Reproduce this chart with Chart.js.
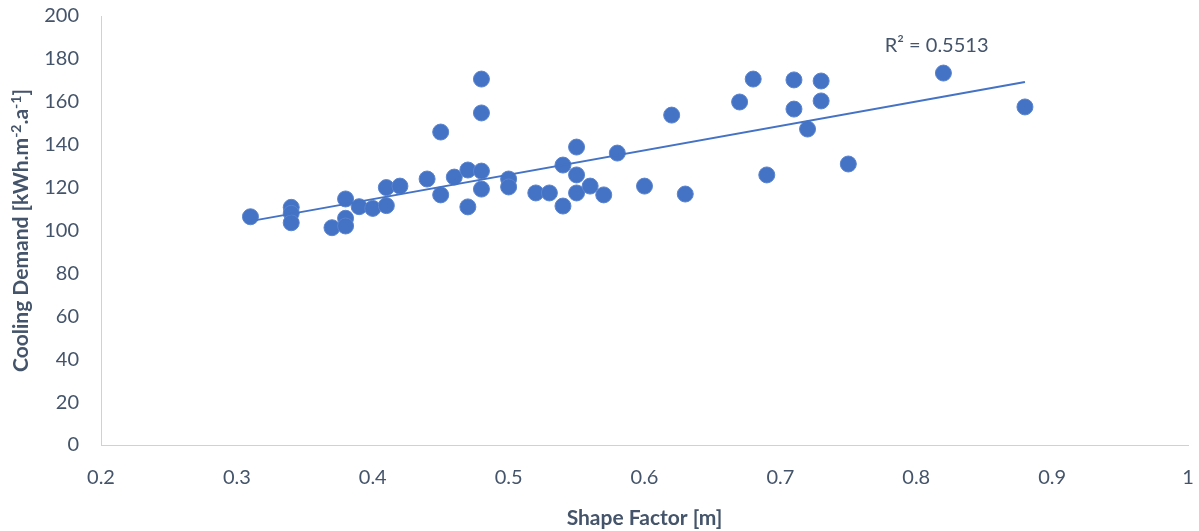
<!DOCTYPE html>
<html>
<head>
<meta charset="utf-8">
<script src="https://cdn.jsdelivr.net/npm/chart.js@4/dist/chart.umd.min.js"></script>
<style>
  html, body { margin: 0; padding: 0; background: #fff; }
  #wrap { width: 1199px; height: 531px; }
</style>
</head>
<body>
<div id="wrap"><canvas id="chart" width="1199" height="531"></canvas></div>
<script>
// shape factor [m] of each building
var shapeFactor = [0.31, 0.34, 0.34, 0.34, 0.37, 0.38, 0.38, 0.38, 0.39, 0.40,
  0.41, 0.41, 0.42, 0.44, 0.45, 0.45, 0.46, 0.47, 0.47, 0.48,
  0.48, 0.48, 0.48, 0.50, 0.50, 0.52, 0.53, 0.54, 0.54, 0.55,
  0.55, 0.55, 0.56, 0.57, 0.58, 0.60, 0.62, 0.63, 0.67, 0.68,
  0.69, 0.71, 0.71, 0.72, 0.73, 0.73, 0.75, 0.82, 0.88];
// cooling demand [kWh/m2a]
var coolingDemand = [106.4, 110.8, 108.0, 103.6, 101.3, 114.7, 105.7, 102.1, 111.1, 110.3,
  120.0, 111.6, 120.7, 124.0, 145.9, 116.6, 124.9, 128.2, 111.0, 170.6,
  154.8, 127.7, 119.3, 124.0, 120.3, 117.5, 117.5, 130.5, 111.4, 138.9,
  125.9, 117.5, 120.7, 116.6, 136.1, 120.7, 153.8, 117.0, 159.9, 170.6,
  125.9, 170.2, 156.6, 147.3, 169.7, 160.4, 131.0, 173.4, 157.6];
var xTicks = [0.2, 0.3, 0.4, 0.5, 0.6, 0.7, 0.8, 0.9, 1];
var yTicks = [0, 20, 40, 60, 80, 100, 120, 140, 160, 180, 200];
var r2Text = 'R² = 0.5513';
// y title pieces, second value = superscript
var yTitleParts = [['Cooling Demand [kWh.m', 0], ['-2', 1], ['.a', 0], ['-1', 1], [']', 0]];

var points = shapeFactor.map(function (x, i) { return { x: x, y: coolingDemand[i] }; });

// least squares line over the data range
var n = points.length, sx = 0, sy = 0, sxx = 0, sxy = 0;
points.forEach(function (p) { sx += p.x; sy += p.y; sxx += p.x * p.x; sxy += p.x * p.y; });
var slope = (n * sxy - sx * sy) / (n * sxx - sx * sx);
var icpt = (sy - slope * sx) / n;
var xMin = Math.min.apply(null, shapeFactor), xMax = Math.max.apply(null, shapeFactor);
var trend = [{ x: xMin, y: icpt + slope * xMin }, { x: xMax, y: icpt + slope * xMax }];

var textColor = '#44546a';
var fontName = 'Lato, "Open Sans", sans-serif';

var extraText = {
  id: 'extraText',
  afterDraw: function (chart) {
    var c = chart.ctx;
    var xs = chart.scales.x, ys = chart.scales.y, area = chart.chartArea;
    c.save();
    // R squared next to the trend line
    c.font = '20px ' + fontName;
    c.fillStyle = textColor;
    c.textAlign = 'center';
    c.textBaseline = 'middle';
    c.fillText(r2Text, xs.getPixelForValue(0.815), ys.getPixelForValue(186));

    // rotated y title with real superscripts
    var big = 'bold 21px ' + fontName, small = 'bold 14px ' + fontName;
    var total = 0;
    yTitleParts.forEach(function (p) { c.font = p[1] ? small : big; total += c.measureText(p[0]).width; });
    c.translate(21, (area.top + area.bottom) / 2);
    c.rotate(-Math.PI / 2);
    c.textAlign = 'left';
    c.textBaseline = 'alphabetic';
    var pos = -total / 2;
    yTitleParts.forEach(function (p) {
      c.font = p[1] ? small : big;
      c.fillText(p[0], pos, p[1] ? 0 : 7);
      pos += c.measureText(p[0]).width;
    });
    c.restore();
  }
};

new Chart(document.getElementById('chart').getContext('2d'), {
  type: 'scatter',
  data: {
    datasets: [{
      label: 'data',
      data: points,
      backgroundColor: '#4472c4',
      borderColor: '#5a84cf',
      borderWidth: 1,
      pointRadius: 8,
      order: 2
    }, {
      label: 'trend',
      type: 'line',
      data: trend,
      borderColor: '#4472c4',
      borderWidth: 2,
      pointRadius: 0,
      fill: false,
      order: 1
    }]
  },
  options: {
    responsive: false,
    animation: false,
    layout: { autoPadding: false, padding: { left: 0, right: 11, top: 16, bottom: 0 } },
    plugins: { legend: { display: false }, tooltip: { enabled: false } },
    scales: {
      x: {
        type: 'linear',
        min: 0.2, max: 1,
        afterBuildTicks: function (s) { s.ticks = xTicks.map(function (v) { return { value: v }; }); },
        afterFit: function (s) { s.height = 86; s.paddingLeft = 0; s.paddingRight = 0; },
        grid: { display: false, drawTicks: false },
        border: { display: true, color: '#cdd2da', width: 1 },
        ticks: {
          padding: 21,
          maxRotation: 0,
          color: textColor,
          font: { family: fontName, size: 20 },
          callback: function (v) { return String(+v.toFixed(1)); }
        },
        title: {
          display: true,
          text: 'Shape Factor [m]',
          color: textColor,
          font: { family: fontName, size: 21, weight: 'bold' },
          padding: { top: 0, bottom: 0 }
        }
      },
      y: {
        min: 0, max: 200,
        afterBuildTicks: function (s) { s.ticks = yTicks.map(function (v) { return { value: v }; }); },
        afterFit: function (s) { s.width = 101; s.paddingTop = 0; s.paddingBottom = 0; },
        grid: { display: false, drawTicks: false },
        border: { display: true, color: '#cdd2da', width: 1 },
        ticks: {
          padding: 22,
          color: textColor,
          font: { family: fontName, size: 20 }
        }
      }
    }
  },
  plugins: [extraText]
});
</script>
</body>
</html>
